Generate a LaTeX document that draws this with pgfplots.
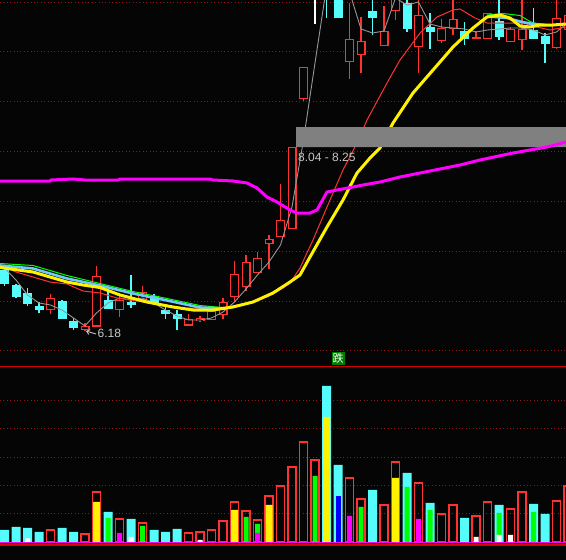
\documentclass[border=0pt]{standalone}
\usepackage{pgfplots}
\pgfplotsset{compat=1.18}
\usepackage{pgfplotstable}
\usetikzlibrary{arrows.meta}
\usepackage{fontspec}
\setmainfont{Liberation Sans}
\newfontfamily\cjk{Noto Sans CJK SC}
\definecolor{upred}{RGB}{255,50,50}
\definecolor{dncyan}{RGB}{84,252,252}
\definecolor{gridred}{RGB}{150,20,20}
\definecolor{sepred}{RGB}{210,0,0}
\definecolor{skyb}{RGB}{110,200,250}
\definecolor{mag}{RGB}{255,0,255}
\definecolor{lgray}{RGB}{200,200,200}
\definecolor{bandgray}{RGB}{128,128,128}
\definecolor{magray}{RGB}{150,150,150}
\definecolor{dgreen}{RGB}{0,128,0}
\definecolor{bg}{RGB}{5,5,5}

% candles: x, body top, body bottom, high, low (pixel rows)
\pgfplotstableread{
x t b h l
50.5 298 310 294 314
85 326 330 323 331
96.5 275.5 326.5 266 327
119.5 300 310 293 317
142.5 292 300 286 302
188.5 319 325.5 314 326
200 318 321 316 322
211.5 311 320 309 320
223 302 315 298 319
234.5 274 297 261 302
246 262 287 255 291
257.5 258 273 252 273
269 239 244 235 269
280.5 220 237 184 237
292 147 229 147 229
303.5 67 99 67 101
349.5 39 62 3 79
361 41 55 17 73
384 31 46 6 46
395.5 -10 11 -20 20
418.5 15 47 -5 73
441.5 28 41 19 43
453 19 29 -5 35
476 37 39 31 39
487.5 13 39 13 39
510.5 29 42 27 42
522 29 40 -5 50
556.5 18 48 -5 49
568 15 30 10 35
}\redc
\pgfplotstableread{
x t b h l
4.5 270 284 268 286
16 285 296.5 284 298
27.5 293 304 288 306
39 306 310 302 313
62 300.5 319 300 319
73.5 320.5 327.5 318 330
108 300 308.5 292 309
131 302 305 275 308
154 296 303 294 305
165.5 310 313.5 307 318.5
177 314 319 310 330
326.5 -20 -10 -30 18
338 -10 18 -20 18
372.5 11 18 -5 35
407 3 29 -5 32
430 27 32 13 49
464.5 31 39 22 45
499 21 37 -5 40
533.5 30 39 8 39
545 36 44 33 63
}\cyanc

\begin{document}
\begin{tikzpicture}
\fill[bg] (0,0) rectangle (566pt,560pt);
\useasboundingbox (0,0) rectangle (566pt,560pt);

% ---------- price panel ----------
\begin{axis}[at={(0,194pt)}, anchor=south west, scale only axis,
  width=566pt, height=366pt, xmin=0, xmax=566, ymin=0, ymax=366, y dir=reverse,
  axis line style={draw=none}, xtick=\empty, ytick={2,51,101,151,201,251,301,350},
  yticklabels={}, major tick length=0pt, ymajorgrids,
  grid style={gridred, dash pattern=on 1pt off 2.4pt, line width=0.9pt}]
% wicks
\addplot[draw=none, mark=none, error bars/.cd, y dir=both, y explicit, error mark=none,
  error bar style={draw=upred, solid, line width=1.2pt}]
  table[x=x, y expr={(\thisrow{h}+\thisrow{l})/2}, y error expr={(\thisrow{l}-\thisrow{h})/2}] {\redc};
\addplot[draw=none, mark=none, error bars/.cd, y dir=both, y explicit, error mark=none,
  error bar style={draw=dncyan, solid, line width=1.2pt}]
  table[x=x, y expr={(\thisrow{h}+\thisrow{l})/2}, y error expr={(\thisrow{l}-\thisrow{h})/2}] {\cyanc};
\addplot[white, line width=1.2pt] coordinates {(315,-5) (315,24)};
% bodies
\addplot[draw=none, mark=none, error bars/.cd, y dir=both, y explicit, error mark=none,
  error bar style={draw=upred, solid, line width=9pt}]
  table[x=x, y expr={(\thisrow{t}+\thisrow{b})/2}, y error expr={max((\thisrow{b}-\thisrow{t})/2,0.6)}] {\redc};
\addplot[draw=none, mark=none, error bars/.cd, y dir=both, y explicit, error mark=none,
  error bar style={draw=bg, solid, line width=6.6pt}]
  table[x=x, y expr={(\thisrow{t}+\thisrow{b})/2}, y error expr={max((\thisrow{b}-\thisrow{t})/2-1.2,0)}] {\redc};
\addplot[draw=none, mark=none, error bars/.cd, y dir=both, y explicit, error mark=none,
  error bar style={draw=dncyan, solid, line width=9pt}]
  table[x=x, y expr={(\thisrow{t}+\thisrow{b})/2}, y error expr={max((\thisrow{b}-\thisrow{t})/2,0.6)}] {\cyanc};
% moving averages
\addplot[magray, line width=0.9pt] coordinates {(0,266)(4.5,268)(16,280)(27.5,295)(39,303)(50.5,305)(62,310)(73.5,318)(85,326)(96.5,313)(108,303)(119.5,298)(131,300)(142.5,298)(154,303)(165.5,310)(177,316)(188.5,320)(200,320)(211.5,318)(223,312)(234.5,302)(246,289)(257.5,275)(269,262)(280.5,245)(292,207)(303.5,140)(315,63)(326.5,-13)(338,-40)(349.5,-8)(361,29)(372.5,33)(384,31)(395.5,-2)(407,5)(418.5,2)(430,24)(441.5,27)(453,28)(464.5,29)(476,32)(487.5,30)(499,29)(510.5,28)(522,28)(533.5,30)(545,35)(556.5,32)(566,24)};
\addplot[upred, line width=1pt] coordinates {(0,265)(16,272)(33,277)(50,282)(67,284)(83,291)(100,293)(117,298)(143,302)(160,305)(180,308)(207,308)(227,307)(247,303)(267,297)(283,288)(290,283)(300,268)(313,240)(327,207)(343,170)(357,143)(367,120)(387,83)(400,60)(420,33)(437,17)(453,10)(460,9)(475,18)(487,23)(507,23)(523,23)(537,27)(550,30)(566,27)};
\addplot[green, line width=1pt, unbounded coords=jump] coordinates {(0,263.5)(33,265.5)(67,275.5)(100,283.5)(133,291.5)(167,298.5)(200,305.5)(222,307.5) (nan,nan) (487,15)(503,13.5)(520,15.5)(530,21.5)(537,24)(550,24.5)};
\addplot[skyb, line width=2.6pt, unbounded coords=jump] coordinates {(0,265.5)(33,268.5)(67,278.5)(100,285.5)(133,293.5)(167,300.5)(200,307.5)(222,308.5) (nan,nan) (490,16.5)(507,18)(520,21.5)(530,23.5)(545,25)};
\addplot[yellow, line width=3pt] coordinates {(0,267.5)(33,272)(67,282)(83,285)(100,287.5)(120,295)(147,302)(173,307)(193,310)(213,310)(233,307)(253,302)(273,293)(290,282)(300,275)(310,257)(327,227)(343,200)(357,173)(370,158)(380,148)(393,123)(413,93)(433,70)(453,47)(473,28)(487,17)(500,15)(510,18)(520,26)(530,27)(540,25)(553,25)(566,24)};
% gap band
\addplot[fill=bandgray, draw=none] coordinates {(296,127)(566,127)(566,147)(296,147)(296,127)};
\addplot[mag, line width=3pt] coordinates {(0,181)(50,181)(51,180)(73,179)(85,180)(118,180)(120,179)(210,179)(213,180)(233,181)(247,183)(257,188)(267,197)(277,202)(290,210)(297,213)(310,213)(317,210)(327,192)(337,190)(353,187)(363,185)(380,182)(400,177)(430,171)(460,165)(480,160)(513,153)(547,147)(566,142)};
% labels
\node[anchor=west, text=lgray, inner sep=0pt, font=\fontsize{12}{12}\selectfont] at (axis cs:298,157) {8.04 - 8.25};
\node[anchor=west, text=lgray, inner sep=0pt, font=\fontsize{12}{12}\selectfont] at (axis cs:97.5,333.5) {6.18};
\draw[lgray, line width=0.9pt, -{Straight Barb[length=3pt,width=5pt]}] (axis cs:96,334) -- (axis cs:86,331);
\node[fill=dgreen, text=white, inner sep=1pt, font=\cjk\fontsize{11}{11}\selectfont] at (axis cs:338,358.5) {跌};
\end{axis}

% ---------- volume panel ----------
\begin{axis}[at={(0,0)}, anchor=south west, scale only axis,
  width=566pt, height=194pt, xmin=0, xmax=566, ymin=-18, ymax=176,
  axis line style={draw=none}, xtick=\empty, ytick={29,57,85,114,142},
  yticklabels={}, major tick length=0pt, ymajorgrids,
  grid style={gridred, dash pattern=on 1pt off 2.4pt, line width=0.9pt}]
\addplot[ybar, bar width=9, bar shift=0pt, fill=dncyan, draw=none] coordinates {(4.5,12)(16,15)(27.5,14)(39,10)(62,14)(73.5,10)(108,30)(131,23)(154,12)(165.5,10)(177,13)(326.5,156)(338,77)(372.5,52)(407,69)(430,39)(464.5,24)(499,37)(533.5,38)(545,28)};
\addplot[ybar, bar width=7.8, bar shift=0pt, fill=none, draw=upred, line width=1.3pt] coordinates {(50.5,12)(85,8)(96.5,50)(119.5,23)(142.5,19)(188.5,9)(200,10)(211.5,12)(223,21)(234.5,40)(246,31)(257.5,22)(269,46)(280.5,56)(292,75)(303.5,100)(315,82)(349.5,64)(361,43)(384,37)(395.5,80)(418.5,59)(441.5,28)(453,37)(476,26)(487.5,40)(510.5,33)(522,50)(556.5,41)(568,56)};
\addplot[ybar, bar width=7, bar shift=0pt, fill=yellow, draw=none] coordinates {(96.5,40)(234.5,32)(269,37)(326.5,125)(395.5,64)};
\addplot[ybar, bar width=5, bar shift=0pt, fill=green, draw=none] coordinates {(108,24)(142.5,16)(246,25)(257.5,18)(315,66)(361,35)(407,55)(430,32)(499,29)(533.5,30)};
\addplot[ybar, bar width=5, bar shift=0pt, fill=mag, draw=none] coordinates {(119.5,9)(257.5,9)(349.5,26)(418.5,23)};
\addplot[ybar, bar width=5, bar shift=0pt, fill=blue, draw=none] coordinates {(338,46)};
\addplot[ybar, bar width=5, bar shift=0pt, fill=white, draw=none] coordinates {(27.5,3.5)(131,5)(200,2)(476,5)(499,7)(510.5,7)};
\addplot[mag, line width=1.4pt] coordinates {(0,-0.5)(566,-0.5)};
\addplot[sepred, line width=1.2pt] coordinates {(0,-3)(566,-3)};
\addplot[sepred, line width=1.3pt] coordinates {(0,175.6)(566,175.6)};
\end{axis}
\end{tikzpicture}
\end{document}
